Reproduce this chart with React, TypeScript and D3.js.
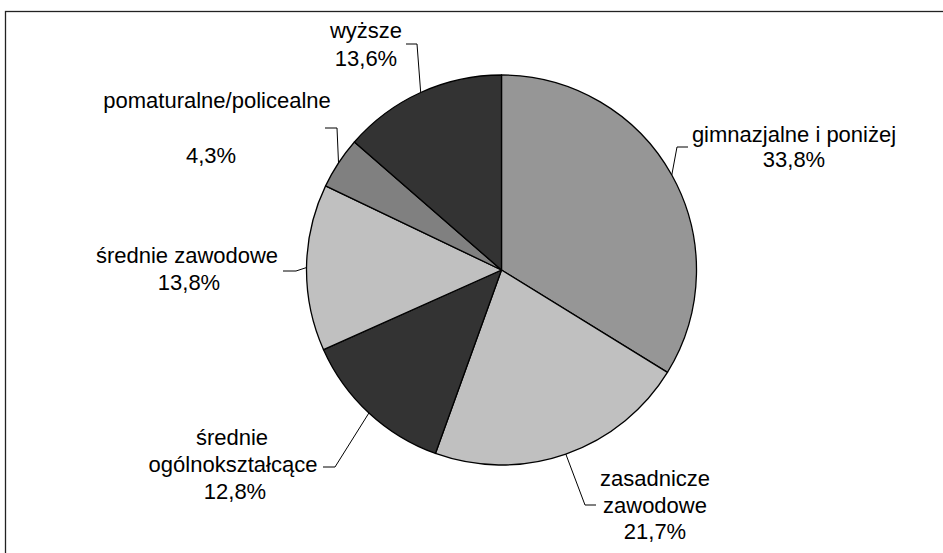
import React from "react";
import * as d3 from "d3";

const categories = [
  "gimnazjalne i poniżej",
  "zasadnicze zawodowe",
  "średnie ogólnokształcące",
  "średnie zawodowe",
  "pomaturalne/policealne",
  "wyższe",
];
const values = [33.8, 21.7, 12.8, 13.8, 4.3, 13.6];
const valueLabels = ["33,8%", "21,7%", "12,8%", "13,8%", "4,3%", "13,6%"];
const labelLines = [
  ["gimnazjalne i poniżej", "33,8%"],
  ["zasadnicze", "zawodowe", "21,7%"],
  ["średnie", "ogólnokształcące", "12,8%"],
  ["średnie zawodowe", "13,8%"],
  ["pomaturalne/policealne", "", "4,3%"],
  ["wyższe", "13,6%"],
];
const colors = ["#969696", "#c0c0c0", "#333333", "#c0c0c0", "#808080", "#333333"];

// label layout (text anchor centre, first baseline, leader elbow and end)
const labelLayout = [
  { x: [794, 794], y: 142, lh: 25, elbow: [677, 147], end: [688, 147] },
  { x: [655, 655, 655], y: 486, lh: 26.7, elbow: [585, 505], end: [596, 505] },
  { x: [232, 233, 235], y: 445, lh: 27, elbow: [335, 467], end: [323, 467] },
  { x: [187, 189], y: 263, lh: 27, elbow: [296, 271], end: [283, 271] },
  { x: [217, 217, 211], y: 108, lh: 27.5, elbow: [337, 128], end: [325, 128] },
  { x: [366, 366], y: 38, lh: 27.7, elbow: [417, 44], end: [406, 44] },
];

const W = 943;
const H = 553;
const cx = 501.5;
const cy = 270;
const R = 195;

export default function App() {
  const data = values.map((v, i) => ({ v, i, name: categories[i], label: valueLabels[i] }));
  const pie = d3
    .pie<any>()
    .value((d) => d.v)
    .sort(null)
    .startAngle(0)
    .endAngle(2 * Math.PI);
  const arcs = pie(data);
  const arc = d3.arc<any>().innerRadius(0).outerRadius(R);
  const edge = d3.arc<any>().innerRadius(R * 2).outerRadius(0);

  return (
    <svg
      width={W}
      height={H}
      style={{ position: "absolute", left: 0, top: 0, background: "#fff" }}
      fontFamily="'Liberation Sans', Arial, sans-serif"
    >
      <rect x={5.5} y={11.5} width={W + 20} height={H + 20} fill="#fff" stroke="#222" strokeWidth={1.3} />
      <g transform={`translate(${cx},${cy})`}>
        {arcs.map((a, i) => (
          <path key={i} d={arc(a) as string} fill={colors[i]} stroke="#000" strokeWidth={1.3} strokeLinejoin="round" />
        ))}
      </g>
      {arcs.map((a, i) => {
        const [ex, ey] = edge.centroid(a);
        const L = labelLayout[i];
        const pts = [
          [cx + ex, cy + ey],
          L.elbow,
          L.end,
        ];
        return (
          <polyline
            key={"l" + i}
            points={pts.map((p) => p.join(",")).join(" ")}
            fill="none"
            stroke="#000"
            strokeWidth={1}
          />
        );
      })}
      {labelLines.map((lines, i) => {
        const L = labelLayout[i];
        return (
          <text key={"t" + i} fontSize={22} fill="#000" textAnchor="middle">
            {lines.map((ln, j) => (
              <tspan key={j} x={L.x[j]} y={L.y + j * L.lh}>
                {ln}
              </tspan>
            ))}
          </text>
        );
      })}
    </svg>
  );
}
